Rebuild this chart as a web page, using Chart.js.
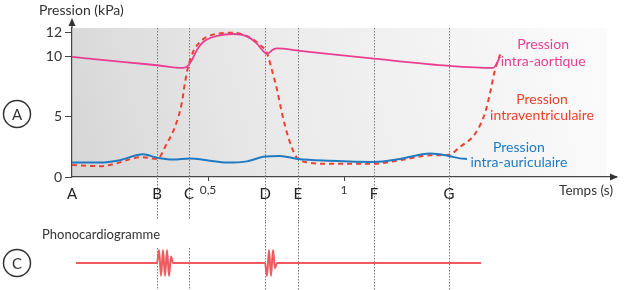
<!DOCTYPE html>
<html>
<head>
<meta charset="utf-8">
<script src="https://cdn.jsdelivr.net/npm/chart.js@4"></script>
<style>
  body { margin: 0; background: #fff; }
  #wrap { position: relative; width: 630px; height: 290px; }
  canvas { position: absolute; left: 0; }
  #top { top: 0; }
  #phono { top: 222px; }
</style>
</head>
<body>
<div id="wrap">
  <canvas id="top" width="630" height="222"></canvas>
  <canvas id="phono" width="630" height="68"></canvas>
</div>
<script>
// moments of the cycle (s)
const eventTimes = [0, 0.3125, 0.43, 0.71, 0.83, 1.11, 1.386];
const eventLetters = ['A', 'B', 'C', 'D', 'E', 'F', 'G'];
const xTicks = [0.5, 1];
const yTicks = [0, 5, 10, 12];

// pression intra-aortique (kPa)
const aorticT = [0, 0.213, 0.3125, 0.408, 0.426, 0.441, 0.460, 0.478, 0.496, 0.533, 0.592, 0.643, 0.680, 0.702, 0.717, 0.739, 0.754, 0.838, 1.110, 1.386, 1.548, 1.574];
const aorticP = [10.0, 9.52, 9.3, 9.08, 9.25, 9.75, 10.6, 11.15, 11.45, 11.75, 11.9, 11.7, 11.1, 10.5, 10.25, 10.6, 10.7, 10.5, 9.85, 9.25, 9.08, 10.0];

// pression intraventriculaire (kPa)
const ventT = [0, 0.103, 0.165, 0.224, 0.257, 0.3125, 0.349, 0.379, 0.404, 0.415, 0.426, 0.445, 0.471, 0.518, 0.592, 0.654, 0.691, 0.717, 0.735, 0.754, 0.772, 0.790, 0.809, 0.827, 0.857, 0.949, 1.110, 1.206, 1.316, 1.386, 1.426, 1.482, 1.518, 1.537, 1.555, 1.574];
const ventP = [1.0, 0.9, 1.15, 1.55, 1.65, 1.5, 2.8, 4.2, 6.2, 7.8, 9.1, 10.4, 11.25, 11.85, 12.0, 11.6, 11.0, 10.3, 8.9, 7.25, 5.3, 3.7, 2.4, 1.6, 1.25, 1.1, 1.1, 1.4, 1.8, 1.85, 2.5, 3.6, 5.3, 7.0, 8.9, 10.2];

// pression intra-auriculaire (kPa)
const atrialT = [0, 0.103, 0.176, 0.261, 0.3125, 0.371, 0.434, 0.496, 0.570, 0.643, 0.710, 0.765, 0.831, 0.949, 1.110, 1.206, 1.316, 1.386, 1.426, 1.452];
const atrialP = [1.2, 1.2, 1.4, 1.9, 1.6, 1.45, 1.55, 1.4, 1.2, 1.3, 1.7, 1.75, 1.5, 1.35, 1.25, 1.5, 1.95, 1.75, 1.55, 1.5];

// phonocardiogramme (amplitude relative)
const phonoT = [0.0147, 0.3125, 0.3199, 0.3272, 0.3346, 0.3419, 0.3493, 0.3566, 0.3640, 0.3713, 0.7096, 0.7169, 0.7243, 0.7316, 0.7390, 0.7463, 0.7537, 1.5037];
const phonoA = [0, 0, 1, -1, 1, -1, 1, -1, 0.5, 0, 0, -1, 1, -1, 1, -0.4, 0, 0];

const seriesLabels = [
  ['Pression', 'intra-aortique'],
  ['Pression', 'intraventriculaire'],
  ['Pression', 'intra-auriculaire']
];

const PINK = '#ea3f91', RED = '#f1412e', BLUE = '#1f7ac2', INK = '#333';
const FONT = 'Lato, "Open Sans", sans-serif';
Chart.defaults.font.family = FONT;

const pts = (ts, vs) => ts.map((t, i) => ({ x: t, y: vs[i] }));

function dotted(ctx, x, y0, y1) {
  ctx.save();
  ctx.strokeStyle = '#7a7a7a';
  ctx.lineWidth = 1;
  ctx.setLineDash([1.5, 1.5]);
  ctx.beginPath();
  ctx.moveTo(Math.round(x) + 0.5, y0);
  ctx.lineTo(Math.round(x) + 0.5, y1);
  ctx.stroke();
  ctx.restore();
}

function circled(ctx, cx, cy, letter) {
  ctx.save();
  ctx.strokeStyle = INK;
  ctx.lineWidth = 1.5;
  ctx.beginPath();
  ctx.arc(cx, cy, 13.5, 0, Math.PI * 2);
  ctx.stroke();
  ctx.fillStyle = INK;
  ctx.font = '15px ' + FONT;
  ctx.textAlign = 'center';
  ctx.textBaseline = 'middle';
  ctx.fillText(letter, cx, cy + 1);
  ctx.restore();
}

const topDecor = {
  id: 'topDecor',
  beforeDraw(chart) {
    const { ctx, chartArea: a } = chart;
    const g = ctx.createLinearGradient(a.left, a.bottom, a.right, a.top);
    g.addColorStop(0, '#d6d6d6');
    g.addColorStop(0.4, '#ebebeb');
    g.addColorStop(1, '#fcfcfc');
    ctx.save();
    ctx.fillStyle = g;
    ctx.fillRect(a.left, a.top, a.right - 9 - a.left, a.bottom - a.top);
    ctx.restore();
  },
  beforeDatasetsDraw(chart) {
    const { ctx, chartArea: a, scales: { x } } = chart;
    eventTimes.forEach((t, i) => {
      if (i === 0) return;
      dotted(ctx, x.getPixelForValue(t), a.top, i <= 2 ? 220 : chart.height);
    });
  },
  afterDraw(chart) {
    const { ctx, chartArea: a, scales: { x, y } } = chart;
    ctx.save();
    ctx.fillStyle = INK;
    ctx.strokeStyle = '#444';
    ctx.lineWidth = 1.2;
    // axis arrows
    ctx.beginPath();
    ctx.moveTo(a.left, a.top);
    ctx.lineTo(a.left, 24);
    ctx.stroke();
    ctx.beginPath();
    ctx.moveTo(a.left, 18);
    ctx.lineTo(a.left - 3.5, 26);
    ctx.lineTo(a.left + 3.5, 26);
    ctx.closePath();
    ctx.fill();
    ctx.beginPath();
    ctx.moveTo(a.right + 2, a.bottom);
    ctx.lineTo(a.right - 6, a.bottom - 3.5);
    ctx.lineTo(a.right - 6, a.bottom + 3.5);
    ctx.closePath();
    ctx.fill();

    // event letters
    ctx.font = '15px ' + FONT;
    ctx.textAlign = 'center';
    ctx.textBaseline = 'middle';
    ctx.fillStyle = '#222';
    eventTimes.forEach((t, i) => ctx.fillText(eventLetters[i], x.getPixelForValue(t), 194));

    // axis titles
    ctx.fillStyle = INK;
    ctx.font = '14px ' + FONT;
    ctx.textAlign = 'left';
    ctx.fillText('Pression (kPa)', 39, 10);
    ctx.textAlign = 'right';
    ctx.font = '13.5px ' + FONT;
    ctx.fillText('Temps (s)', 613, 191);

    // series labels
    const anchors = [[1.732, 11.0, 9.58, PINK], [1.728, 6.42, 5.08, RED], [1.643, 2.42, 1.17, BLUE]];
    ctx.font = '14px ' + FONT;
    ctx.textAlign = 'center';
    anchors.forEach(([t, p1, p2, c], i) => {
      ctx.fillStyle = c;
      ctx.fillText(seriesLabels[i][0], x.getPixelForValue(t), y.getPixelForValue(p1));
      ctx.fillText(seriesLabels[i][1], x.getPixelForValue(t), y.getPixelForValue(p2));
    });
    ctx.restore();
    circled(ctx, 17, 114, 'A');
  }
};

new Chart(document.getElementById('top'), {
  type: 'line',
  data: {
    datasets: [
      { label: 'Pression intra-aortique', data: pts(aorticT, aorticP), borderColor: PINK, borderWidth: 1.8 },
      { label: 'Pression intra-auriculaire', data: pts(atrialT, atrialP), borderColor: BLUE, borderWidth: 2 },
      { label: 'Pression intraventriculaire', data: pts(ventT, ventP), borderColor: RED, borderWidth: 2, borderDash: [5, 4] }
    ]
  },
  options: {
    responsive: false,
    animation: false,
    layout: { padding: { top: 28, right: 14, left: 0, bottom: 0 } },
    elements: { point: { radius: 0 }, line: { cubicInterpolationMode: 'monotone' } },
    plugins: { legend: { display: false }, tooltip: { enabled: false } },
    scales: {
      x: {
        type: 'linear', min: 0, max: 2,
        afterBuildTicks: s => { s.ticks = xTicks.map(v => ({ value: v })); },
        afterFit: s => { s.height = 45; },
        ticks: { color: INK, font: { size: 12 }, padding: 2, autoSkip: false, maxRotation: 0,
          callback: v => String(v).replace('.', ',') },
        grid: { drawOnChartArea: false, tickLength: 4, color: '#444' },
        border: { color: '#444', width: 1.2 }
      },
      y: {
        min: 0, max: 12.4,
        afterBuildTicks: s => { s.ticks = yTicks.map(v => ({ value: v })); },
        afterFit: s => { s.width = 72; },
        ticks: { color: INK, font: { size: 14 }, padding: 3 },
        grid: { drawOnChartArea: false, tickLength: 7, color: '#444' },
        border: { color: '#444', width: 1.2 }
      }
    }
  },
  plugins: [topDecor]
});

const phonoDecor = {
  id: 'phonoDecor',
  beforeDatasetsDraw(chart) {
    const { ctx, scales: { x } } = chart;
    eventTimes.forEach((t, i) => {
      if (i === 0) return;
      dotted(ctx, x.getPixelForValue(t), i <= 2 ? 26 : 0, chart.height);
    });
  },
  afterDraw(chart) {
    const { ctx } = chart;
    ctx.save();
    ctx.fillStyle = INK;
    ctx.font = '13px ' + FONT;
    ctx.textAlign = 'left';
    ctx.textBaseline = 'middle';
    ctx.fillText('Phonocardiogramme', 42, 13);
    ctx.restore();
    circled(ctx, 17, 41, 'C');
  }
};

new Chart(document.getElementById('phono'), {
  type: 'line',
  data: {
    datasets: [
      { label: 'Phonocardiogramme', data: pts(phonoT, phonoA), borderColor: '#f05a5e', borderWidth: 2,
        cubicInterpolationMode: 'monotone', clip: false }
    ]
  },
  options: {
    responsive: false,
    animation: false,
    layout: { padding: { top: 28, right: 14, left: 72, bottom: 14 } },
    elements: { point: { radius: 0 } },
    plugins: { legend: { display: false }, tooltip: { enabled: false } },
    scales: {
      x: { type: 'linear', min: 0, max: 2, display: false },
      y: { min: -1, max: 1, display: false }
    }
  },
  plugins: [phonoDecor]
});
</script>
</body>
</html>
